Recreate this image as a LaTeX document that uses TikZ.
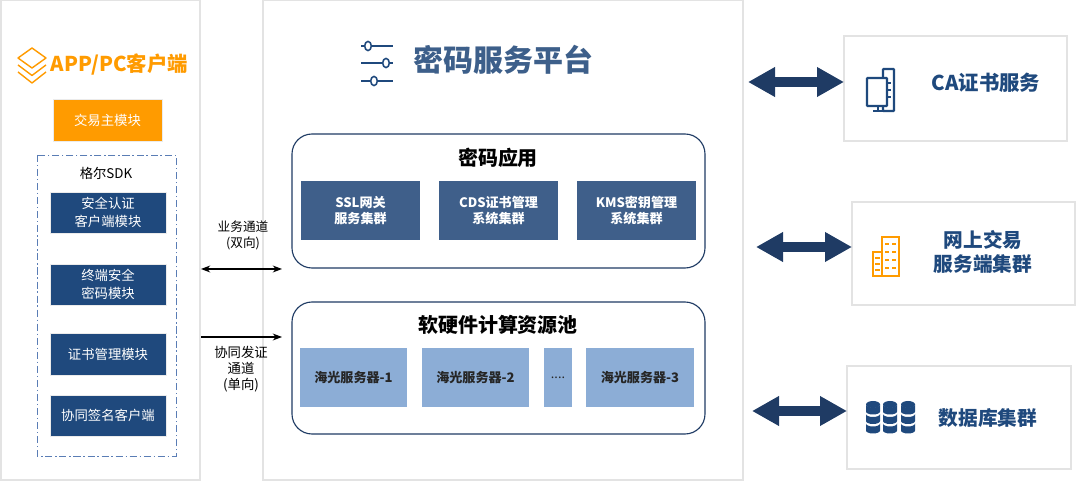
\documentclass[tikz,border=0pt]{standalone}
\usepackage{fontspec}
\usepackage{xcolor}
\setmainfont{Noto Sans CJK SC}
\usetikzlibrary{arrows.meta}
\definecolor{navy}{HTML}{1F497D}
\definecolor{darkarrow}{HTML}{1F3B64}
\definecolor{midblue}{HTML}{3F5F8A}
\definecolor{lightblue}{HTML}{8CADD6}
\definecolor{titleblue}{HTML}{3D5F8A}
\definecolor{orangefill}{HTML}{FF9B00}
\definecolor{panelgray}{HTML}{E3E3E3}
\definecolor{sdkblue}{HTML}{5A7DB5}
\tikzset{
sz/.style 2 args={minimum width=#1*0.025cm,minimum height=#2*0.025cm,inner sep=0pt,outer sep=0pt},
panel/.style={draw=panelgray,line width=1pt,fill=white},
frame/.style={draw=panelgray!70,line width=0.6pt},
navymod/.style={frame,fill=navy,text=white,align=center,font=\fontsize{9.5}{12.5}\selectfont},
appbox/.style={draw=darkarrow,line width=0.8pt,rounded corners=0.5cm,fill=white},
appmod/.style={fill=midblue,text=white,align=center,font=\fontsize{9.3}{11.5}\selectfont\bfseries},
poolmod/.style={fill=lightblue,text=black!85,align=center,font=\fontsize{9.3}{11.5}\selectfont\bfseries},
cardtext/.style={text=navy,align=center,font=\fontsize{14}{17}\selectfont\bfseries},
linklabel/.style={align=center,font=\fontsize{9}{11.4}\selectfont},
bigarrow/.style={darkarrow,line width=0.25cm,{Triangle[length=0.675cm,width=0.7cm]}-{Triangle[length=0.675cm,width=0.7cm]}},
thinlink/.style={black,line width=0.8pt}
}
\begin{document}
\begin{tikzpicture}[x=0.025cm,y=-0.025cm]
\useasboundingbox (0,0) rectangle (1080,484);
\node[panel,sz={199}{480}] (clientpanel) at (100.5,240) {};
\node[panel,sz={480}{480}] (mainpanel) at (503,240) {};
\node[panel,sz={223}{105}] (cabox) at (955.5,88.5) {};
\node[panel,sz={223}{103}] (webbox) at (963.5,253.5) {};
\node[panel,sz={224}{103}] (dbbox) at (959,417.5) {};

\node[text=orangefill,font=\fontsize{14.5}{17}\selectfont\bfseries,anchor=west] (clienttitle) at (46,65) {APP/PC客户端};
\draw[orangefill,line width=1pt,line join=round](32,48)--(46,58)--(32,68)--(18,58)--cycle;
\draw[orangefill,line width=1pt,line join=round](18,65)--(32,75.5)--(46,65);
\draw[orangefill,line width=1pt,line join=round](18,72)--(32,83)--(46,72);

\node[frame,fill=orangefill,text=white,sz={109}{42},font=\fontsize{9.5}{12}\selectfont] (mainmod) at (107.5,120) {交易主模块};
\draw[draw=sdkblue,line width=0.6pt,dash pattern=on 5pt off 2pt on 1pt off 2pt] (37,155) rectangle (176,456);
\node[font=\fontsize{9.5}{12}\selectfont] (sdklabel) at (106,173) {格尔SDK};
\node[navymod,sz={116}{41}] (authmod) at (108,212.5) {安全认证\\客户端模块};
\node[navymod,sz={116}{41}] (termmod) at (108,284.5) {终端安全\\密码模块};
\node[navymod,sz={116}{42}] (certmod) at (108,354) {证书管理模块};
\node[navymod,sz={116}{41}] (signmod) at (108,415.5) {协同签名客户端};

\node[text=titleblue,font=\fontsize{21.3}{24}\selectfont\bfseries,anchor=west] (maintitle) at (409,60) {密码服务平台};
\foreach \ly/\cx in {46/368,63/386,81/374}{
\draw[navy,line width=1.2pt](361,\ly)--(393,\ly);
\draw[navy,line width=1.1pt,fill=white](\cx,\ly)ellipse[x radius=3.3,y radius=4.6];
}

\node[appbox,sz={413}{134}] (cipherbox) at (498.5,201) {};
\node[font=\fontsize{14.2}{17}\selectfont\bfseries] (ciphertitle) at (498,158) {密码应用};
\node[appmod,sz={119}{59}] (sslmod) at (360.5,210.5) {SSL网关\\服务集群};
\node[appmod,sz={119}{59}] (cdsmod) at (498.5,210.5) {CDS证书管理\\系统集群};
\node[appmod,sz={119}{59}] (kmsmod) at (636.5,210.5) {KMS密钥管理\\系统集群};

\node[appbox,sz={413}{132}] (poolbox) at (498.5,368) {};
\node[font=\fontsize{14.2}{17}\selectfont\bfseries] (pooltitle) at (498,325) {软硬件计算资源池};
\node[poolmod,sz={107}{59}] (srvone) at (353.5,377.5) {海光服务器-1};
\node[poolmod,sz={107}{59}] (srvtwo) at (475.5,377.5) {海光服务器-2};
\node[poolmod,sz={28}{59},font=\fontsize{9}{9}\selectfont] (srvdots) at (558,377.5) {....};
\node[poolmod,sz={108}{59}] (srvthree) at (640,377.5) {海光服务器-3};

\coordinate (dualleft) at (201,269);
\coordinate (dualright) at (282,269);
\coordinate (oneleft) at (201,337);
\coordinate (oneright) at (282,337);
\draw[thinlink,{Stealth}-{Stealth}] (dualleft)--(dualright);
\draw[thinlink,-Stealth] (oneleft)--(oneright);
\node[linklabel] (duallabel) at (243,235) {业务通道\\(双向)};
\node[linklabel,font=\fontsize{9.5}{11.4}\selectfont] (onelabel) at (241,369) {协同发证\\通道\\(单向)};

\coordinate (caleft) at (748,82);
\coordinate (webleft) at (756,247);
\coordinate (dbleft) at (752,411);
\draw[bigarrow] (caleft)--(cabox.west |- caleft);
\draw[bigarrow] (webleft)--(webbox.west |- webleft);
\draw[bigarrow] (dbleft)--(dbbox.west |- dbleft);

\node[cardtext,font=\fontsize{14.5}{18}\selectfont\bfseries] (catext) at (986,83) {CA证书服务};
\node[cardtext] (webtext) at (983,252) {网上交易\\服务端集群};
\node[cardtext] (dbtext) at (988,418) {数据库集群};

\draw[navy,line width=1.6pt,fill=white,rounded corners=0.5pt](883,69)rectangle(894,111);
\draw[navy,line width=1.6pt,fill=white,rounded corners=0.5pt](867,78)rectangle(887,106);
\draw[navy,line width=1.5pt](878,106)--(878,111)(873,111)--(883,111);
\foreach \ty in {83,90,97}{\draw[navy,line width=1pt](887,\ty)--(891,\ty);}

\draw[orangefill,line width=1.4pt,fill=white](882,237)rectangle(899,276);
\draw[orangefill,line width=1.4pt,fill=white](873,252)rectangle(882,276);
\foreach \wy in {244,252,260,268}{\draw[orangefill,line width=0.9pt](885,\wy)--(889,\wy)(892,\wy)--(896,\wy);}
\foreach \wy in {258,264,270}{\draw[orangefill,line width=0.9pt](875,\wy)--(880,\wy);}

\foreach \sx in {873,890,908}{
\foreach \sy in {404.5,414,423.5}{
\fill[navy](\sx-7,\sy)--(\sx-7,\sy+7)arc[start angle=180,end angle=360,x radius=7,y radius=-3]--(\sx+7,\sy)arc[start angle=0,end angle=-180,x radius=7,y radius=-3]--cycle;
}
\fill[navy](\sx,404.5)ellipse[x radius=7,y radius=3.5];
}
\end{tikzpicture}
\end{document}
